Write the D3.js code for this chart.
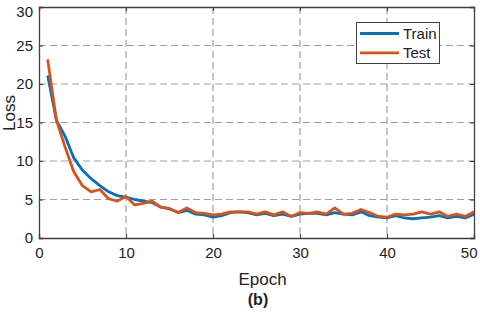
<!DOCTYPE html>
<html><head><meta charset="utf-8">
<script src="https://cdn.jsdelivr.net/npm/d3@7"></script>
<style>body{margin:0;background:#fff;} text{font-family:"Liberation Sans",Arial,sans-serif;}</style>
</head><body>
<svg id="c" width="480" height="313"></svg>
<script>
const epochs = d3.range(1, 51);
const trainLoss = [21.1,15.3,13.2,10.4,8.8,7.7,6.8,6.0,5.5,5.3,5.0,4.8,4.6,4.0,3.8,3.3,3.6,3.1,3.0,2.7,2.9,3.3,3.4,3.3,3.0,3.2,2.9,3.1,2.8,3.1,3.2,3.2,3.0,3.3,3.1,3.0,3.4,2.9,2.7,2.6,2.9,2.6,2.5,2.6,2.7,2.9,2.6,2.8,2.6,3.1];
const testLoss = [23.2,15.3,11.8,8.6,6.8,6.0,6.3,5.1,4.8,5.4,4.3,4.5,4.8,4.0,3.8,3.3,3.9,3.3,3.2,3.0,3.1,3.4,3.4,3.4,3.1,3.4,3.0,3.4,2.8,3.3,3.2,3.4,3.1,3.9,3.1,3.2,3.7,3.3,2.8,2.7,3.1,3.0,3.1,3.4,3.1,3.4,2.8,3.1,2.8,3.4];
const xTicks = [0,10,20,30,40,50];
const yTicks = [0,5,10,15,20,25,30];
const seriesNames = ["Train","Test"];
const colors = ["#0072BD","#D95319"];

const svg = d3.select("#c");
const L=39, R=474, T=7, B=238;
const x = d3.scaleLinear().domain([0,50]).range([L,R]);
const y = d3.scaleLinear().domain([0,30]).range([B,T]);

// grid
const g = svg.append("g");
g.selectAll(".gx").data(xTicks.slice(1,-1)).enter().append("line")
 .attr("x1",d=>x(d)).attr("x2",d=>x(d)).attr("y1",T).attr("y2",B)
 .attr("stroke","#a0a0a0").attr("stroke-width",1.2).attr("stroke-dasharray","7,4");
g.selectAll(".gy").data(yTicks.slice(1,-1)).enter().append("line")
 .attr("y1",d=>y(d)).attr("y2",d=>y(d)).attr("x1",L).attr("x2",R)
 .attr("stroke","#a0a0a0").attr("stroke-width",1.2).attr("stroke-dasharray","7,4");

// lines
const series = [trainLoss, testLoss];
const line = d3.line().x((d,i)=>x(epochs[i])).y(d=>y(d));
series.forEach((s,k)=>{
  svg.append("path").datum(s).attr("d",line).attr("fill","none")
   .attr("stroke",colors[k]).attr("stroke-width",2.8).attr("stroke-linejoin","round");
});

// axes
const axCol="#404040";
const xb = svg.append("g").attr("transform",`translate(0,${B})`)
 .call(d3.axisBottom(x).tickValues(xTicks).tickSize(-4).tickPadding(9));
const xt = svg.append("g").attr("transform",`translate(0,${T})`)
 .call(d3.axisTop(x).tickValues(xTicks).tickSize(-4).tickFormat(""));
const yl = svg.append("g").attr("transform",`translate(${L},0)`)
 .call(d3.axisLeft(y).tickValues(yTicks).tickSize(-4).tickPadding(6));
const yr = svg.append("g").attr("transform",`translate(${R},0)`)
 .call(d3.axisRight(y).tickValues(yTicks).tickSize(-4).tickFormat(""));
[xb,xt,yl,yr].forEach(a=>{
  a.select(".domain").attr("stroke",axCol).attr("stroke-width",1.3);
  a.selectAll(".tick line").attr("stroke",axCol).attr("stroke-width",1.1);
  a.selectAll("text").attr("fill","#222").attr("font-size",15)
   .attr("font-family","'Liberation Sans',Arial,sans-serif");
});
// keep edge labels inside the window
yl.selectAll(".tick text").filter(d=>d===30).attr("dy","0.66em");
xb.selectAll(".tick text").filter(d=>d===50).attr("text-anchor","end").attr("dx","3");

// labels
svg.append("text").attr("x",(L+R)/2+6).attr("y",285).attr("text-anchor","middle")
 .attr("font-size",17).attr("fill","#222").text("Epoch");
svg.append("text").attr("transform",`translate(15,113) rotate(-90)`)
 .attr("text-anchor","middle").attr("font-size",17).attr("fill","#222").text("Loss");
svg.append("text").attr("x",258).attr("y",305).attr("text-anchor","middle")
 .attr("font-size",16).attr("font-weight","bold").attr("fill","#222").text("(b)");

// legend
const lg = svg.append("g");
lg.append("rect").attr("x",356.5).attr("y",22.5).attr("width",83).attr("height",41)
 .attr("fill","#fff").attr("stroke","#404040").attr("stroke-width",1);
seriesNames.forEach((n,k)=>{
  const yy = 33.5 + k*19.3;
  lg.append("line").attr("x1",360).attr("x2",399).attr("y1",yy).attr("y2",yy)
   .attr("stroke",colors[k]).attr("stroke-width",2.8);
  lg.append("text").attr("x",403).attr("y",yy+5).attr("font-size",15).attr("fill","#222").text(n);
});
</script>
</body></html>
